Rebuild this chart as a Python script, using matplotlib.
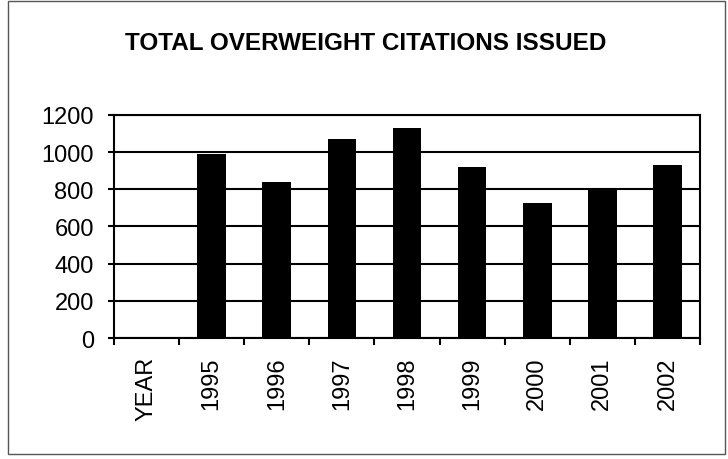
import matplotlib
matplotlib.use("Agg")
import matplotlib.pyplot as plt
import numpy as np
from matplotlib.patches import Rectangle

# donnees
categories = ['YEAR', '1995', '1996', '1997', '1998', '1999', '2000', '2001', '2002']
citations = [0, 990, 840, 1072, 1130, 918, 725, 803, 930]
yticks = [0, 200, 400, 600, 800, 1000, 1200]
titre = 'TOTAL OVERWEIGHT CITATIONS ISSUED'

plt.rcParams['font.family'] = ['Liberation Sans', 'DejaVu Sans']

fig = plt.figure(figsize=(7.28, 4.6), dpi=100)
ax = fig.add_axes([0.1566, 0.263, 0.805, 0.485])

x = np.arange(len(categories))
ax.bar(x[1:], citations[1:], width=0.44, color='black', zorder=3)

ax.set_xlim(-0.5, len(categories) - 0.5)
ax.set_ylim(0, 1200)
ax.set_yticks(yticks)
ax.set_yticklabels([str(v) for v in yticks], fontsize=17)
ax.grid(axis='y', color='black', linewidth=1.5, zorder=1)

ax.set_xticks(x)
ax.set_xticklabels(categories, rotation=90, fontsize=17)
ax.set_xticks(np.arange(len(categories) + 1) - 0.5, minor=True)
ax.tick_params(axis='x', which='major', length=0, pad=13)
ax.tick_params(axis='x', which='minor', length=5, width=1.5, direction='out')
ax.tick_params(axis='y', length=4.5, width=1.5, direction='out', pad=10)

for s in ax.spines.values():
    s.set_linewidth(1.5)
    s.set_color('black')

fig.text(0.503, 0.906, titre, ha='center', va='center',
         fontsize=17.5, fontweight='bold')

# cadre exterieur
fig.patches.append(Rectangle((0.011, 0.011), 0.985, 0.984, transform=fig.transFigure,
                             fill=False, edgecolor='#555555', linewidth=1))

fig.savefig('out.png', dpi=100)
